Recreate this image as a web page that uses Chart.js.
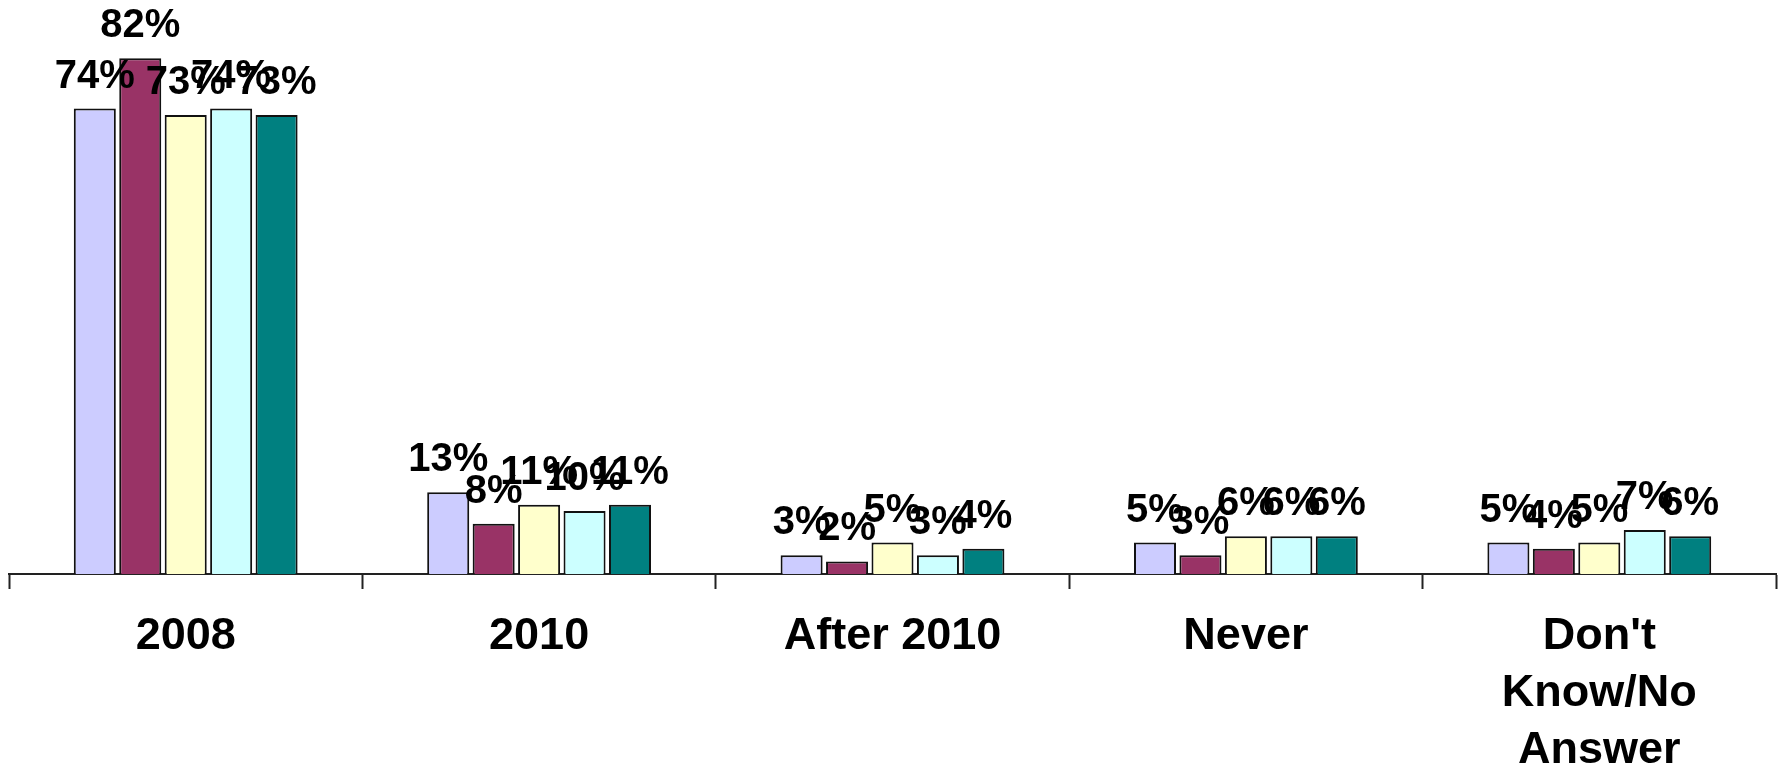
<!DOCTYPE html>
<html>
<head>
<meta charset="utf-8">
<script src="https://cdn.jsdelivr.net/npm/chart.js@4/dist/chart.umd.min.js"></script>
<style>
  body { margin: 0; background: #fff; }
  #wrap { width: 1779px; height: 770px; }
</style>
</head>
<body>
<div id="wrap"><canvas id="chart" width="1779" height="770"></canvas></div>
<script>
/**
 * DATA
 */
const categories = ["2008", "2010", "After 2010", "Never", ["Don't", "Know/No", "Answer"]];
const series1 = [74, 13, 3, 5, 5];
const series2 = [82, 8, 2, 3, 4];
const series3 = [73, 11, 5, 6, 5];
const series4 = [74, 10, 3, 6, 7];
const series5 = [73, 11, 4, 6, 6];

const colors = ["#CCCCFF", "#993366", "#FFFFCC", "#CCFFFF", "#008080"];
const fontFamily = "'Liberation Sans', Arial, sans-serif";

/**
 * Plugin: percent labels above bars
 */
const valueLabels = {
  id: "valueLabels",
  afterDatasetsDraw(chart) {
    const ctx = chart.ctx;
    ctx.save();
    ctx.font = "bold 40px " + fontFamily;
    ctx.fillStyle = "#000";
    ctx.textAlign = "center";
    ctx.textBaseline = "middle";
    chart.data.datasets.forEach((ds, i) => {
      chart.getDatasetMeta(i).data.forEach((bar, j) => {
        ctx.fillText(ds.data[j] + "%", bar.x, bar.y - 32);
      });
    });
    ctx.restore();
  }
};

const makeDataset = (data, i) => ({
  data: data,
  backgroundColor: colors[i],
  borderColor: "#111",
  borderWidth: 2,
  categoryPercentage: 0.643,
  barPercentage: 0.925
});

document.addEventListener("DOMContentLoaded", () => {
  new Chart(document.getElementById("chart"), {
    type: "bar",
    data: {
      labels: categories,
      datasets: [series1, series2, series3, series4, series5].map(makeDataset)
    },
    options: {
      responsive: false,
      animation: false,
      layout: { padding: { top: 8, left: 9, right: 3, bottom: 0 } },
      plugins: {
        legend: { display: false },
        tooltip: { enabled: false }
      },
      scales: {
        y: {
          display: false,
          min: 0,
          max: 90
        },
        x: {
          afterFit: (scale) => { scale.height = 196; },
          border: { display: true, color: "#222", width: 2 },
          grid: {
            display: true,
            offset: true,
            drawOnChartArea: false,
            drawTicks: true,
            tickLength: 15,
            tickColor: "#222",
            tickWidth: 2
          },
          ticks: {
            color: "#000",
            padding: 19,
            maxRotation: 0,
            font: { family: fontFamily, size: 45, weight: "bold", lineHeight: 1.27 }
          }
        }
      }
    },
    plugins: [valueLabels]
  });
});
</script>
</body>
</html>
